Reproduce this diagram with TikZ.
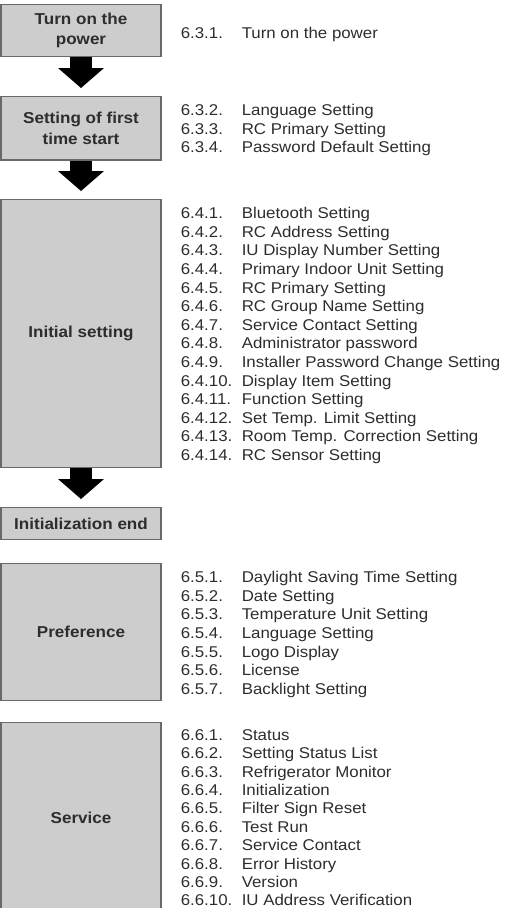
\documentclass[tikz,border=0pt]{standalone}
\usepackage{fontspec}
\setmainfont{Liberation Sans}[FakeStretch=1.08]
\usetikzlibrary{positioning,arrows.meta}

\definecolor{boxgray}{RGB}{205,205,205}
\definecolor{framegray}{RGB}{105,105,105}
\definecolor{textgray}{RGB}{45,45,45}

% one numbered line of a list
\newcommand{\entry}[2]{\makebox[61pt][l]{#1}#2}

\begin{document}
\begin{tikzpicture}[
    stage/.style={
        rectangle,
        draw=framegray,
        fill=boxgray,
        line width=1.2pt,
        minimum width=160pt,
        align=center,
        text=textgray,
        font=\fontsize{15.8}{20.5}\selectfont\bfseries
    },
    items/.style={
        inner sep=0pt,
        anchor=north west,
        align=left,
        text=textgray,
        font=\fontsize{15.6}{18.6}\selectfont
    },
    flow/.style={line width=22pt, -{Triangle[width=46pt,length=20pt,line width=0pt]}}
]

\useasboundingbox (0,0) rectangle (504pt,-908pt);

\node[stage, minimum height=51.8pt] (power) at (81pt,-30.5pt)
{Turn on the\\power};

\node[stage, minimum height=63.4pt] (first) [below=39pt of power]
{Setting of first\\time start};

\node[stage, minimum height=267.8pt] (initial) [below=38.4pt of first]
{Initial setting};

\node[stage, minimum height=31.8pt] (initend) [below=39pt of initial]
{Initialization end};

\node[stage, minimum height=136.5pt] (pref) [below=23pt of initend]
{Preference};

\node[stage, minimum height=190.8pt] (service) [below=21.3pt of pref]
{Service};

% lists on the right
\node[items] (powerlist) [below right=22.7pt and 19pt of power.north east]
{\entry{6.3.1.}{Turn on the power}};

\node[items] (firstlist) [below right=8.2pt and 19pt of first.north east]
{\entry{6.3.2.}{Language Setting}\\
 \entry{6.3.3.}{RC Primary Setting}\\
 \entry{6.3.4.}{Password Default Setting}};

\node[items] (initiallist) [below right=8.2pt and 19pt of initial.north east]
{\entry{6.4.1.}{Bluetooth Setting}\\
 \entry{6.4.2.}{RC Address Setting}\\
 \entry{6.4.3.}{IU Display Number Setting}\\
 \entry{6.4.4.}{Primary Indoor Unit Setting}\\
 \entry{6.4.5.}{RC Primary Setting}\\
 \entry{6.4.6.}{RC Group Name Setting}\\
 \entry{6.4.7.}{Service Contact Setting}\\
 \entry{6.4.8.}{Administrator password}\\
 \entry{6.4.9.}{Installer Password Change Setting}\\
 \entry{6.4.10.}{Display Item Setting}\\
 \entry{6.4.11.}{Function Setting}\\
 \entry{6.4.12.}{Set Temp. Limit Setting}\\
 \entry{6.4.13.}{Room Temp. Correction Setting}\\
 \entry{6.4.14.}{RC Sensor Setting}};

\node[items] (preflist) [below right=8.2pt and 19pt of pref.north east]
{\entry{6.5.1.}{Daylight Saving Time Setting}\\
 \entry{6.5.2.}{Date Setting}\\
 \entry{6.5.3.}{Temperature Unit Setting}\\
 \entry{6.5.4.}{Language Setting}\\
 \entry{6.5.5.}{Logo Display}\\
 \entry{6.5.6.}{License}\\
 \entry{6.5.7.}{Backlight Setting}};

\node[items, font=\fontsize{15.6}{18.4}\selectfont] (servicelist)
    [below right=7.2pt and 19pt of service.north east]
{\entry{6.6.1.}{Status}\\
 \entry{6.6.2.}{Setting Status List}\\
 \entry{6.6.3.}{Refrigerator Monitor}\\
 \entry{6.6.4.}{Initialization}\\
 \entry{6.6.5.}{Filter Sign Reset}\\
 \entry{6.6.6.}{Test Run}\\
 \entry{6.6.7.}{Service Contact}\\
 \entry{6.6.8.}{Error History}\\
 \entry{6.6.9.}{Version}\\
 \entry{6.6.10.}{IU Address Verification}};

% block arrows
\draw[flow] (power.south) -- ([yshift=8pt]first.north);
\draw[flow] (first.south) -- ([yshift=8pt]initial.north);
\draw[flow] (initial.south) -- ([yshift=8pt]initend.north);

\end{tikzpicture}
\end{document}
